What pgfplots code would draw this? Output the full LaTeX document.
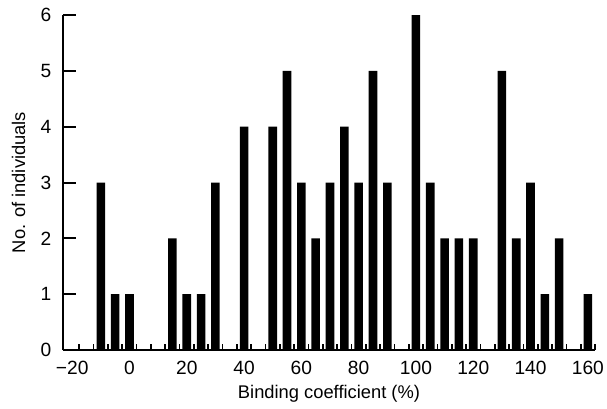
\documentclass[border=0pt]{standalone}
\usepackage{fontspec}
\setmainfont{Liberation Sans}
\usepackage{pgfplots}
\pgfplotsset{compat=1.18}

% counts per 5 % bin (bin centre, count); 1 px of the reference = 0.6pt
\begin{document}
\begin{tikzpicture}
\useasboundingbox (-37.8pt,-34.8pt) rectangle (326.4pt,210pt);
\begin{axis}[
  at={(0,0)}, anchor=south west,
  scale only axis,
  width=319.2pt, height=201pt,
  axis lines=left,
  axis line style={-, line width=1.6pt, black},
  xmin=-23.2, xmax=162.5,
  ymin=0, ymax=6,
  xtick={-20,0,...,160},
  xticklabels={−20,0,20,40,60,80,100,120,140,160},
  ytick={0,...,6},
  minor xtick={-17.5,-12.5,...,162.5},
  major x tick style={draw=none},
  minor x tick style={line width=1pt, black},
  minor tick length=3.5pt,
  major tick length=8pt,
  y tick style={line width=1.2pt, black},
  tick align=inside,
  every tick label/.append style={font=\fontsize{11.5}{13}\selectfont},
  /pgf/number format/assume math mode=true,
  xticklabel style={anchor=center, yshift=-10.8pt},
  yticklabel style={anchor=east, xshift=-3.5pt},
  xlabel={Binding coefficient (\%)},
  ylabel={No. of individuals},
  label style={font=\fontsize{11}{13}\selectfont},
  xlabel style={at={(axis description cs:0.5,0)}, anchor=center, yshift=-26pt},
  ylabel style={at={(axis description cs:0,0.5)}, anchor=center, yshift=26.7pt},
  clip=false,
]
\addplot[ybar, bar width=3, fill=black, draw=none] coordinates {
  (-10,3) (-5,1) (0,1) (15,2) (20,1) (25,1) (30,3) (40,4)
  (50,4) (55,5) (60,3) (65,2) (70,3) (75,4) (80,3) (85,5) (90,3)
  (100,6) (105,3) (110,2) (115,2) (120,2) (130,5) (135,2) (140,3)
  (145,1) (150,2) (160,1)
};
\end{axis}
\end{tikzpicture}
\end{document}
